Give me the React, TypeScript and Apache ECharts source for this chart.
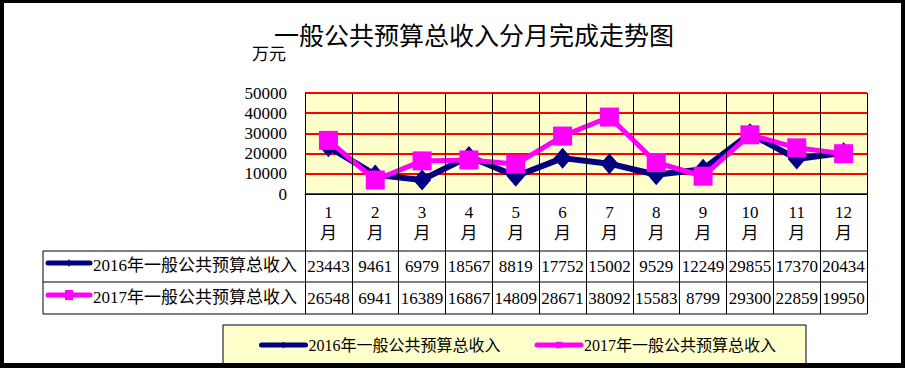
import React, { useEffect, useRef } from "react";
import * as echarts from "echarts";

const titleText = "一般公共预算总收入分月完成走势图";
const unitText = "万元";
const months = ["1", "2", "3", "4", "5", "6", "7", "8", "9", "10", "11", "12"];
const monthSuffix = "月";
const seriesNames = ["2016年一般公共预算总收入", "2017年一般公共预算总收入"];
const values2016 = [23443, 9461, 6979, 18567, 8819, 17752, 15002, 9529, 12249, 29855, 17370, 20434];
const values2017 = [26548, 6941, 16389, 16867, 14809, 28671, 38092, 15583, 8799, 29300, 22859, 19950];
const yMin = 0;
const yMax = 50000;
const yStep = 10000;

const FONT = "'Liberation Serif', 'Noto Sans CJK SC', serif";
const NAVY = "#000080";
const MAGENTA = "#FF00FF";

export default function App() {
  const ref = useRef<HTMLDivElement>(null);
  useEffect(() => {
    if (!ref.current) return;
    const chart = echarts.init(ref.current, null, { renderer: "svg" });
    const gl = 305, gt = 93, gw = 562, gh = 101;
    const gb = gt + gh;
    const tableLeft = 43;
    const row1Top = 251, row2Top = 282, tableBottom = 314;
    const black = "#000";
    const hLine = (y: number) => ({
      type: "line",
      shape: { x1: tableLeft, y1: y, x2: gl + gw, y2: y },
      style: { stroke: black, lineWidth: 1 },
      z: 10,
    });
    const option: any = {
      animation: false,
      backgroundColor: "#fff",
      title: {
        text: titleText,
        left: 269,
        top: 16,
        textStyle: { fontSize: 25, fontWeight: "normal", color: "#000", fontFamily: "'Noto Sans CJK SC', sans-serif" },
      },
      grid: { left: gl, top: gt, width: gw, height: gh, show: true, backgroundColor: "#FFFFCC", borderWidth: 0 },
      legend: {
        left: 223,
        top: 325,
        itemWidth: 44,
        itemHeight: 8,
        itemGap: 34,
        padding: [12, 30, 14, 36],
        backgroundColor: "#FFFFCC",
        borderColor: "#000",
        borderWidth: 1,
        lineStyle: { width: 5, cap: "round" },
        textStyle: { fontSize: 16, color: "#000", fontFamily: FONT, padding: [0, 0, 0, -2] },
        data: seriesNames,
      },
      xAxis: [
        {
          type: "category",
          data: months.map((m) => m + "\n" + monthSuffix),
          boundaryGap: true,
          axisLine: { show: true, lineStyle: { color: black, width: 1 } },
          axisTick: { show: true, interval: 0, length: tableBottom - gb, lineStyle: { color: black, width: 1 } },
          axisLabel: { interval: 0, margin: 8, lineHeight: 21, fontSize: 17, color: "#000", fontFamily: FONT },
          splitLine: { show: true, interval: 0, lineStyle: { color: black, width: 1 } },
          z: 5,
        },
        {
          type: "category",
          data: values2016.map((v) => String(v)),
          position: "bottom",
          axisLine: { show: false },
          axisTick: { show: false },
          splitLine: { show: false },
          axisLabel: { interval: 0, margin: 64, lineHeight: 17, fontSize: 17, color: "#000", fontFamily: FONT },
        },
        {
          type: "category",
          data: values2017.map((v) => String(v)),
          position: "bottom",
          axisLine: { show: false },
          axisTick: { show: false },
          splitLine: { show: false },
          axisLabel: { interval: 0, margin: 96, lineHeight: 17, fontSize: 17, color: "#000", fontFamily: FONT },
        },
      ],
      yAxis: {
        type: "value",
        min: yMin,
        max: yMax,
        interval: yStep,
        name: unitText,
        nameLocation: "end",
        nameGap: 30,
        nameTextStyle: { align: "right", fontSize: 17, color: "#000", fontFamily: FONT, padding: [0, 19, 0, 0] },
        axisLine: { show: true, lineStyle: { color: black, width: 1 } },
        axisTick: { show: false },
        axisLabel: { margin: 18, fontSize: 17, color: "#000", fontFamily: FONT, formatter: (v: number) => String(v) },
        splitLine: { show: true, lineStyle: { color: "#FF0000", width: 2 } },
      },
      series: [
        {
          name: seriesNames[0],
          type: "line",
          data: values2016,
          symbol: "diamond",
          symbolSize: [18, 21],
          lineStyle: { color: NAVY, width: 6 },
          itemStyle: { color: NAVY },
          z: 3,
        },
        {
          name: seriesNames[1],
          type: "line",
          data: values2017,
          symbol: "rect",
          symbolSize: 19,
          lineStyle: { color: MAGENTA, width: 5 },
          itemStyle: { color: MAGENTA },
          z: 4,
        },
      ],
      graphic: [
        hLine(row1Top),
        hLine(row2Top),
        hLine(tableBottom),
        {
          type: "line",
          shape: { x1: tableLeft, y1: row1Top, x2: tableLeft, y2: tableBottom },
          style: { stroke: black, lineWidth: 1 },
          z: 10,
        },
        {
          type: "line",
          shape: { x1: 48, y1: 263, x2: 90, y2: 263 },
          style: { stroke: NAVY, lineWidth: 5, lineCap: "round" },
          z: 10,
        },
        {
          type: "polygon",
          shape: { points: [[69, 259], [71, 263], [69, 267], [67, 263]] },
          style: { fill: NAVY },
          z: 11,
        },
        {
          type: "text",
          x: 93,
          y: 265,
          style: { text: seriesNames[0], fontSize: 17, fontFamily: FONT, fill: "#000", verticalAlign: "middle" },
          z: 10,
        },
        {
          type: "line",
          shape: { x1: 48, y1: 295, x2: 90, y2: 295 },
          style: { stroke: MAGENTA, lineWidth: 5, lineCap: "round" },
          z: 10,
        },
        {
          type: "rect",
          shape: { x: 65, y: 290, width: 8, height: 10 },
          style: { fill: MAGENTA },
          z: 11,
        },
        {
          type: "text",
          x: 93,
          y: 297,
          style: { text: seriesNames[1], fontSize: 17, fontFamily: FONT, fill: "#000", verticalAlign: "middle" },
          z: 10,
        },
        { type: "rect", shape: { x: 0, y: 0, width: 905, height: 3 }, style: { fill: "#000" }, z: 100 },
        { type: "rect", shape: { x: 0, y: 0, width: 4, height: 368 }, style: { fill: "#000" }, z: 100 },
        { type: "rect", shape: { x: 901, y: 0, width: 4, height: 368 }, style: { fill: "#000" }, z: 100 },
        { type: "rect", shape: { x: 0, y: 363, width: 905, height: 5 }, style: { fill: "#000" }, z: 100 },
      ],
    };
    chart.setOption(option);
    return () => chart.dispose();
  }, []);
  return (
    <div
      ref={ref}
      style={{ position: "absolute", left: 0, top: 0, width: 905, height: 368, background: "#fff" }}
    />
  );
}
